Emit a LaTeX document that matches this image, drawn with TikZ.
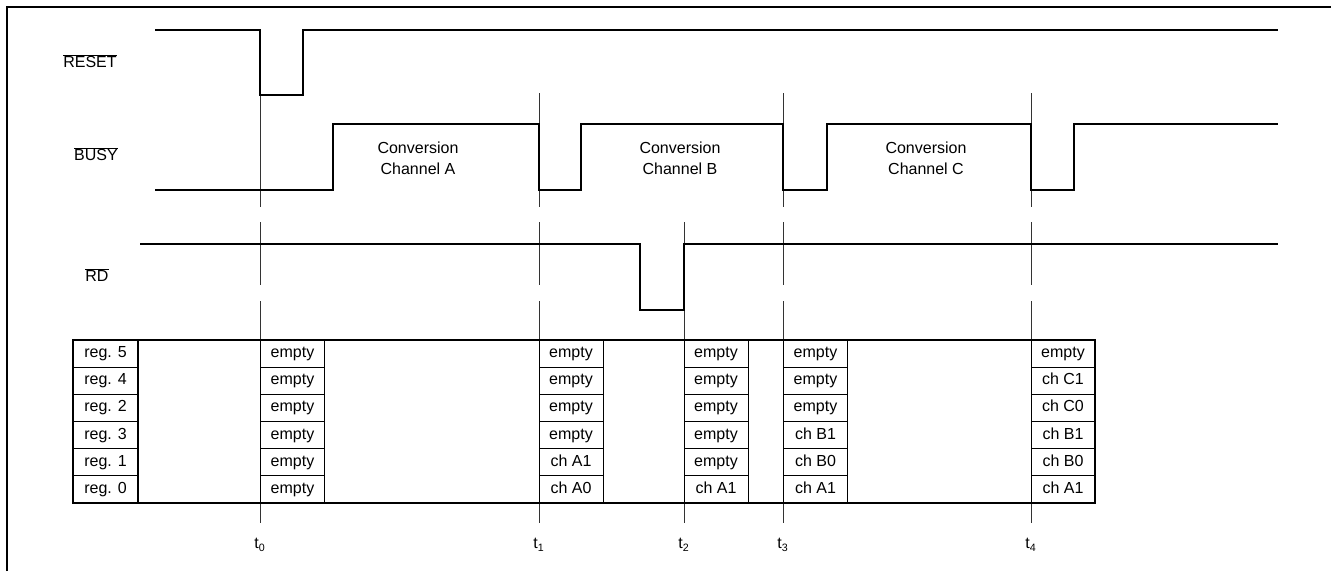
\documentclass[tikz,border=0pt]{standalone}
\usepackage{fontspec}
\setmainfont{Liberation Sans}
\begin{document}
\begin{tikzpicture}[x=0.75pt, y=-0.75pt, font=\fontsize{12}{15.5}\selectfont,
    signal/.style={line width=2pt, line join=miter},
    marker/.style={line width=0.6pt, black!80},
    cell/.style={draw, line width=0.6pt, minimum width=48pt, minimum height=20.4pt, inner sep=0pt,
        text height=1.6ex, text depth=0.45ex}]
    \def\rowH{27.17}
    \def\tabTop{340}
    \useasboundingbox (0,0) rectangle (1331,571);

    % Frame
    \draw[line width=1.5pt] (7,571) -- (7,7) -- (1331,7);

    % Signal names
    \node (lblReset) at (90,61) {$\overline{\mbox{RESET}\vphantom{I}}$};
    \node (lblBusy) at (96,154) {$\overline{\mbox{BUSY}\vphantom{I}}$};
    \node (lblRd) at (97,275) {$\overline{\mbox{RD}\vphantom{I}}$};

    % Time markers, broken between the signals
    \foreach \x in {260,539,783,1031}
        \draw[marker] (\x,93) -- (\x,207) (\x,222) -- (\x,285) (\x,301) -- (\x,523);
    \draw[marker] (684,222) -- (684,285) (684,301) -- (684,523);

    % Waveforms
    \draw[signal] (155,30) -- (260,30) -- (260,95) -- (303,95) -- (303,30) -- (1278,30);
    \draw[signal] (155,190) -- (333,190) -- (333,124) -- (539,124) -- (539,190) -- (581,190) -- (581,124)
        -- (783,124) -- (783,190) -- (827,190) -- (827,124) -- (1031,124) -- (1031,190) -- (1074,190)
        -- (1074,124) -- (1278,124);
    \draw[signal] (140,244) -- (640,244) -- (640,310) -- (684,310) -- (684,244) -- (1278,244);

    % Conversion phases
    \node[align=center] (convA) at (418,158) {Conversion\\Channel A};
    \node[align=center] (convB) at (680,158) {Conversion\\Channel B};
    \node[align=center] (convC) at (926,158) {Conversion\\Channel C};

    % Register table
    \draw[line width=0.9pt] (73,340) rectangle (1095,503);
    \foreach \v [count=\i from 0] in {reg. 5,reg. 4,reg. 2,reg. 3,reg. 1,reg. 0}
        \node[cell, minimum width=48.75pt, line width=0.9pt] (reg\i) at (105.5,{\tabTop+\rowH*(\i+0.5)}) {\v};
    \foreach \v [count=\i from 0] in {empty,empty,empty,empty,empty,empty}
        \node[cell] (c0-\i) at (292.5,{\tabTop+\rowH*(\i+0.5)}) {\v};
    \foreach \v [count=\i from 0] in {empty,empty,empty,empty,ch A1,ch A0}
        \node[cell] (c1-\i) at (571,{\tabTop+\rowH*(\i+0.5)}) {\v};
    \foreach \v [count=\i from 0] in {empty,empty,empty,empty,empty,ch A1}
        \node[cell] (c2-\i) at (716,{\tabTop+\rowH*(\i+0.5)}) {\v};
    \foreach \v [count=\i from 0] in {empty,empty,empty,ch B1,ch B0,ch A1}
        \node[cell] (c3-\i) at (815.5,{\tabTop+\rowH*(\i+0.5)}) {\v};
    \foreach \v [count=\i from 0] in {empty,ch C1,ch C0,ch B1,ch B0,ch A1}
        \node[cell] (c4-\i) at (1063,{\tabTop+\rowH*(\i+0.5)}) {\v};

    % Time labels
    \foreach \n/\x in {0/260,1/539,2/684,3/783,4/1031}
        \node (t\n) at (\x,545) {t\textsubscript{\n}};

\end{tikzpicture}
\end{document}
